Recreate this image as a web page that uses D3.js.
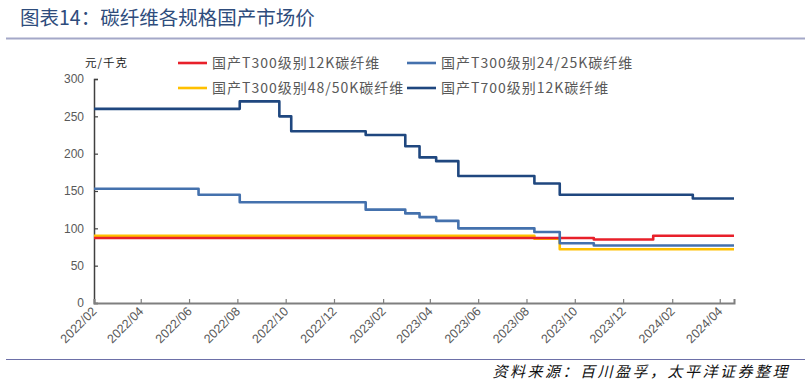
<!DOCTYPE html>
<html><head><meta charset="utf-8">
<script src="https://cdn.jsdelivr.net/npm/d3@7/dist/d3.min.js"></script>
<style>
body{margin:0;background:#fff;}
svg{display:block;}
</style></head>
<body>
<svg id="c" width="805" height="389"></svg>
<script>
// ---- data ----
const seriesNames = ["国产T300级别12K碳纤维","国产T300级别24/25K碳纤维","国产T300级别48/50K碳纤维","国产T700级别12K碳纤维"];
const t300_12k_dates  = ["2022-02-01","2023-10-25","2024-01-08","2024-04-19"];
const t300_12k_values = [87,85,90,90];
const t300_2425k_dates  = ["2022-02-01","2022-06-13","2022-08-04","2023-01-10","2023-03-01","2023-03-19","2023-04-09","2023-05-07","2023-08-11","2023-09-12","2023-10-25","2024-04-19"];
const t300_2425k_values = [153,145,135,125,120,115,110,100,95,80,77,77];
const t300_4850k_dates  = ["2022-02-01","2023-08-11","2023-09-12","2024-04-19"];
const t300_4850k_values = [90,86,72,72];
const t700_12k_dates  = ["2022-02-01","2022-08-04","2022-09-23","2022-10-08","2023-01-10","2023-03-01","2023-03-19","2023-04-09","2023-05-07","2023-08-11","2023-09-12","2024-02-27","2024-04-19"];
const t700_12k_values = [260,270,250,230,225,210,195,190,170,160,145,140,140];
const yTicks = [0,50,100,150,200,250,300];
const xTickLabels = ["2022/02","2022/04","2022/06","2022/08","2022/10","2022/12","2023/02","2023/04","2023/06","2023/08","2023/10","2023/12","2024/02","2024/04"];
const xDomain = ["2022-02-01","2024-04-19"];

const colors = ["#E8202A","#4471AD","#FFC000","#1F477F"];

const svg = d3.select("#c");
const parse = d3.utcParse("%Y-%m-%d");
const fmt = d3.utcParse("%Y/%m");

const x = d3.scaleUtc().domain(xDomain.map(parse)).range([94, 734]);
const y = d3.scaleLinear().domain([0,300]).range([303, 79]);

// title
svg.append("text").attr("x",20).attr("y",25)
  .attr("font-family","'Noto Sans CJK SC',sans-serif").attr("font-size",19.5)
  .attr("fill","#2E4C7C").text("图表14：碳纤维各规格国产市场价");
svg.append("line").attr("x1",6).attr("x2",805).attr("y1",38.5).attr("y2",38.5)
  .attr("stroke","#A4A8C8").attr("stroke-width",2);

// bottom line + source
svg.append("line").attr("x1",6).attr("x2",805).attr("y1",359.5).attr("y2",359.5)
  .attr("stroke","#6D70A8").attr("stroke-width",1.2);
svg.append("text").attr("x",790).attr("y",377).attr("text-anchor","end")
  .attr("font-family","'Noto Sans CJK SC',sans-serif").attr("font-size",15)
  .attr("font-style","italic").attr("letter-spacing",2.5)
  .attr("fill","#111").text("资料来源：百川盈孚，太平洋证券整理");

// unit
svg.append("text").attr("x",85).attr("y",67)
  .attr("font-family","'Noto Sans CJK SC',sans-serif").attr("font-size",11.5)
  .attr("letter-spacing",1).attr("fill","#222").text("元/千克");

// y axis
const yAxis = d3.axisLeft(y).tickValues(yTicks).tickSize(-4).tickPadding(10);
const gy = svg.append("g").attr("transform","translate(94,0)").call(yAxis);
gy.select(".domain").attr("stroke","#404040").attr("stroke-width",1.5);
gy.selectAll(".tick line").attr("stroke","#404040").attr("stroke-width",1.2);
gy.selectAll(".tick text").attr("font-family","'Liberation Sans',Arial,sans-serif")
  .attr("font-size",12).attr("fill","#595959");

// x axis
const xAxis = d3.axisBottom(x).tickValues(xTickLabels.map(fmt)).tickSize(-4)
  .tickFormat(d3.utcFormat("%Y/%m"));
const gx = svg.append("g").attr("transform","translate(0,303)").call(xAxis);
gx.select(".domain").attr("stroke","#7F7F7F").attr("stroke-width",2);
gx.selectAll(".tick line").attr("stroke","#7F7F7F").attr("stroke-width",1.2);
gx.selectAll(".tick text").attr("font-family","'Liberation Sans',Arial,sans-serif")
  .attr("font-size",12.5).attr("fill","#595959")
  .attr("text-anchor","end").attr("dy",0).attr("y",0)
  .attr("transform","translate(3,9) rotate(-45)");

// lines
const series = [
  {d:t300_4850k_dates, v:t300_4850k_values, c:colors[2]},
  {d:t300_12k_dates, v:t300_12k_values, c:colors[0]},
  {d:t300_2425k_dates, v:t300_2425k_values, c:colors[1]},
  {d:t700_12k_dates, v:t700_12k_values, c:colors[3]},
];
const line = d3.line().x(p=>x(p[0])).y(p=>y(p[1])).curve(d3.curveStepAfter);
series.forEach(s=>{
  const pts = s.d.map((dd,i)=>[parse(dd), s.v[i]]);
  svg.append("path").attr("d",line(pts)).attr("fill","none")
    .attr("stroke",s.c).attr("stroke-width",2.6).attr("stroke-linejoin","round");
});

// legend
const legPos = [[178,63],[407,63],[178,88],[407,88]];
seriesNames.forEach((n,i)=>{
  const [lx,ly] = legPos[i];
  svg.append("line").attr("x1",lx).attr("x2",lx+29).attr("y1",ly).attr("y2",ly)
    .attr("stroke",colors[i]).attr("stroke-width",2.6);
  svg.append("text").attr("x",lx+34).attr("y",ly+5)
    .attr("font-family","'Noto Sans CJK SC',sans-serif").attr("font-size",14)
    .attr("letter-spacing",1).attr("fill","#595959").text(n);
});
</script>
</body></html>
